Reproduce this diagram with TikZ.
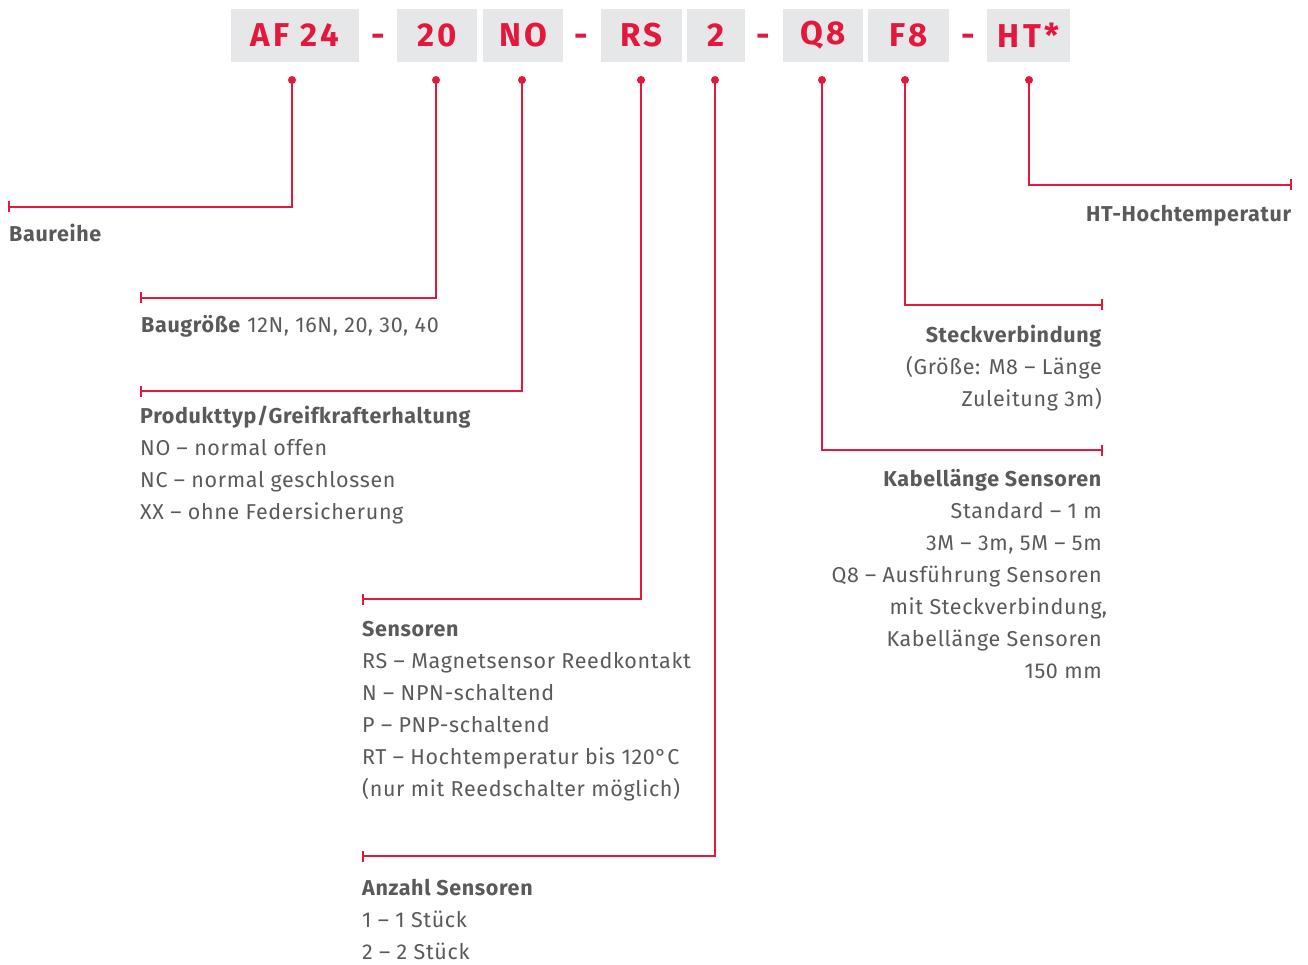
\documentclass[tikz,border=0pt]{standalone}
\usepackage{fontspec}
\setmainfont{Fira Sans}
\usetikzlibrary{arrows.meta}
\definecolor{rd}{HTML}{E2183D}
\definecolor{bx}{HTML}{E6E7E9}
\definecolor{tx}{HTML}{5A5A5A}
\begin{document}
\begin{tikzpicture}[x=1pt,y=-1pt,
  codebox/.style={fill=bx, minimum height=53pt, inner sep=0pt, text=rd,
    font=\fontsize{33}{33}\selectfont\bfseries\addfontfeature{LetterSpace=10}},
  sepdash/.style={text=rd, inner sep=0pt, font=\fontsize{33}{33}\selectfont\bfseries},
  pin/.style={circle, fill=rd, inner sep=0pt, minimum size=8pt},
  lead/.style={draw=rd, line width=2pt, -{Bar[width=11pt,line width=2pt]}},
  txtL/.style={anchor=north west, inner sep=0pt, align=left, text=tx,
    font=\fontsize{21.5}{32}\selectfont\addfontfeature{LetterSpace=3}},
  txtR/.style={anchor=north east, inner sep=0pt, align=right, text=tx,
    font=\fontsize{21.5}{32}\selectfont\addfontfeature{LetterSpace=3}}
]
\useasboundingbox (0,0) rectangle (1308,965);
% code boxes
\node[codebox, minimum width=128pt] (bAF) at (295,35.5) {AF 24};
\node[sepdash] (s1) at (378,40) {-};
\node[codebox, minimum width=80pt] (b20) at (437,35.5) {20};
\node[codebox, minimum width=80pt] (bNO) at (523,35.5) {NO};
\node[sepdash] (s2) at (581,40) {-};
\node[codebox, minimum width=81pt] (bRS) at (641.5,35.5) {RS};
\node[codebox, minimum width=58pt] (b2) at (716,35.5) {2};
\node[sepdash] (s3) at (763,40) {-};
\node[codebox, minimum width=80pt] (bQ8) at (823,35.5) {Q8};
\node[codebox, minimum width=81pt] (bF8) at (908.5,35.5) {F8};
\node[sepdash] (s4) at (968,40) {-};
\node[codebox, minimum width=83pt] (bHT) at (1028.5,35.5) {HT*};
% pins
\node[pin] (pAF) at (292,80) {};
\node[pin] (p20) at (436,80) {};
\node[pin] (pNO) at (522,80) {};
\node[pin] (pRS) at (641,80) {};
\node[pin] (p2) at (715,80) {};
\node[pin] (pQ8) at (822,80) {};
\node[pin] (pF8) at (905,80) {};
\node[pin] (pHT) at (1029,80) {};
% line ends
\coordinate (eAF) at (8,207);
\coordinate (e20) at (140,298);
\coordinate (eNO) at (140,391);
\coordinate (eRS) at (362,599);
\coordinate (e2) at (362,856);
\coordinate (eQ8) at (1103,450);
\coordinate (eF8) at (1103,305);
\coordinate (eHT) at (1292,185);
\draw[lead] (pAF.center) |- (eAF);
\draw[lead] (p20.center) |- (e20);
\draw[lead] (pNO.center) |- (eNO);
\draw[lead] (pRS.center) |- (eRS);
\draw[lead] (p2.center) |- (e2);
\draw[lead] (pQ8.center) |- (eQ8);
\draw[lead] (pF8.center) |- (eF8);
\draw[lead] (pHT.center) |- (eHT);
% texts
\node[txtL] (tAF) at (9,224) {\textbf{Baureihe}};
\node[txtL] (t20) at (141,315) {\textbf{Baugröße} 12N, 16N, 20, 30, 40};
\node[txtL] (tNO) at (140,406) {\textbf{Produkttyp/Greifkrafterhaltung}\\NO – normal offen\\NC – normal geschlossen\\XX – ohne Federsicherung};
\node[txtL] (tRS) at (362,621) {\textbf{Sensoren}\\RS – Magnetsensor Reedkontakt\\N – NPN-schaltend\\P – PNP-schaltend\\RT – Hochtemperatur bis 120°C\\(nur mit Reedschalter möglich)};
\node[txtL] (t2) at (362,879) {\textbf{Anzahl Sensoren}\\1 – 1 Stück\\2 – 2 Stück};
\node[txtR] (tHT) at (1292,205) {\textbf{HT-Hochtemperatur}};
\node[txtR] (tF8) at (1102,325) {\textbf{Steckverbindung}\\(Größe: M8 – Länge\\Zuleitung 3m)};
\node[txtR] (tQ8) at (1102,469) {\textbf{Kabellänge Sensoren}\\Standard – 1 m\\3M – 3m, 5M – 5m\\Q8 – Ausführung Sensoren\\mit Steckverbindung\rlap{,}\\Kabellänge Sensoren\\150 mm};
\end{tikzpicture}
\end{document}
